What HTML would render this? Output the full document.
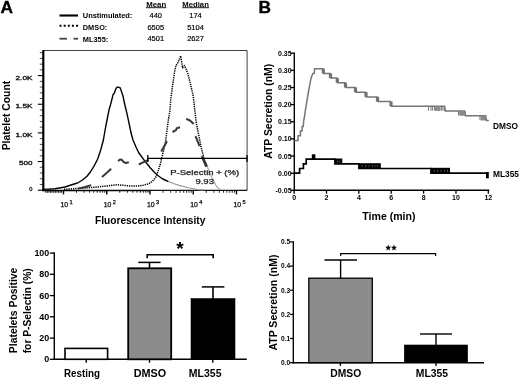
<!DOCTYPE html>
<html><head><meta charset="utf-8"><title>Figure</title>
<style>
html,body{margin:0;padding:0;background:#fff;}
body{width:520px;height:380px;overflow:hidden;font-family:"Liberation Sans",sans-serif;}
svg{display:block;filter:blur(0.35px);}
text{font-family:"Liberation Sans",sans-serif;fill:#000;}
.b{font-weight:bold;}
</style></head><body>
<svg width="520" height="380" viewBox="0 0 520 380">
<rect x="0" y="0" width="520" height="380" fill="#fff"/>

<text x="0.6" y="13.2" font-size="17.3" text-anchor="start" class="b" stroke="#000" stroke-width="0.35">A</text>
<text x="258.6" y="13.2" font-size="17.3" text-anchor="start" class="b" stroke="#000" stroke-width="0.35">B</text>
<line x1="59.5" y1="15.5" x2="78" y2="15.5" stroke="#000" stroke-width="2.1"/>
<line x1="59.5" y1="25.7" x2="78.5" y2="25.7" stroke="#000" stroke-width="1.9" stroke-dasharray="2 2.15"/>
<line x1="59.5" y1="38.7" x2="67" y2="38.7" stroke="#444" stroke-width="1.8"/>
<line x1="73.5" y1="38.7" x2="78" y2="38.7" stroke="#444" stroke-width="1.8"/>
<text x="82.8" y="18.2" font-size="7.6" text-anchor="start" class="b" textLength="49.5" lengthAdjust="spacingAndGlyphs">Unstimulated:</text>
<text x="82.8" y="29.7" font-size="7.6" text-anchor="start" class="b" textLength="24.5" lengthAdjust="spacingAndGlyphs">DMSO:</text>
<text x="82.8" y="41.5" font-size="7.6" text-anchor="start" class="b" textLength="25.5" lengthAdjust="spacingAndGlyphs">ML355:</text>
<text x="156.2" y="6.7" font-size="7.8" text-anchor="middle" class="b" textLength="20" lengthAdjust="spacingAndGlyphs">Mean</text>
<line x1="146" y1="7.7" x2="166.3" y2="7.7" stroke="#000" stroke-width="0.9"/>
<text x="195.6" y="6.7" font-size="7.8" text-anchor="middle" class="b" textLength="26.5" lengthAdjust="spacingAndGlyphs">Median</text>
<line x1="182.3" y1="7.7" x2="209" y2="7.7" stroke="#000" stroke-width="0.9"/>
<text x="155.8" y="18.2" font-size="7.5" text-anchor="middle" stroke="#000" stroke-width="0.18">440</text>
<text x="195.5" y="18.2" font-size="7.5" text-anchor="middle" stroke="#000" stroke-width="0.18">174</text>
<text x="155.8" y="29.9" font-size="7.5" text-anchor="middle" stroke="#000" stroke-width="0.18">6505</text>
<text x="195.5" y="29.9" font-size="7.5" text-anchor="middle" stroke="#000" stroke-width="0.18">5104</text>
<text x="155.8" y="41.1" font-size="7.5" text-anchor="middle" stroke="#000" stroke-width="0.18">4501</text>
<text x="195.5" y="41.1" font-size="7.5" text-anchor="middle" stroke="#000" stroke-width="0.18">2627</text>
<path d="M43.3,50.5 H247.1 V190.4" fill="none" stroke="#111" stroke-width="0.8"/>
<line x1="43.3" y1="50.2" x2="43.3" y2="191.1" stroke="#000" stroke-width="2.2"/>
<line x1="42.3" y1="190.4" x2="150" y2="190.4" stroke="#000" stroke-width="1.5"/>
<line x1="150" y1="190.4" x2="247.1" y2="190.4" stroke="#111" stroke-width="1.2"/>
<line x1="45.8" y1="190.4" x2="45.8" y2="192.8" stroke="#000" stroke-width="0.9"/>
<line x1="47.4" y1="190.4" x2="47.4" y2="192.8" stroke="#000" stroke-width="0.9"/>
<line x1="49.0" y1="190.4" x2="49.0" y2="192.8" stroke="#000" stroke-width="0.9"/>
<line x1="50.6" y1="190.4" x2="50.6" y2="192.8" stroke="#000" stroke-width="0.9"/>
<line x1="52.2" y1="190.4" x2="52.2" y2="192.8" stroke="#000" stroke-width="0.9"/>
<line x1="53.8" y1="190.4" x2="53.8" y2="192.8" stroke="#000" stroke-width="0.9"/>
<line x1="55.4" y1="190.4" x2="55.4" y2="192.8" stroke="#000" stroke-width="0.9"/>
<line x1="57.0" y1="190.4" x2="57.0" y2="192.8" stroke="#000" stroke-width="0.9"/>
<line x1="58.6" y1="190.4" x2="58.6" y2="192.8" stroke="#000" stroke-width="0.9"/>
<line x1="60.2" y1="190.4" x2="60.2" y2="192.8" stroke="#000" stroke-width="0.9"/>
<line x1="37.8" y1="190.20" x2="43.3" y2="190.20" stroke="#000" stroke-width="1.1"/>
<line x1="39.8" y1="184.47" x2="43.3" y2="184.47" stroke="#000" stroke-width="0.7"/>
<line x1="39.8" y1="178.74" x2="43.3" y2="178.74" stroke="#000" stroke-width="0.7"/>
<line x1="39.8" y1="173.01" x2="43.3" y2="173.01" stroke="#000" stroke-width="0.7"/>
<line x1="39.8" y1="167.28" x2="43.3" y2="167.28" stroke="#000" stroke-width="0.7"/>
<line x1="37.8" y1="161.55" x2="43.3" y2="161.55" stroke="#000" stroke-width="1.1"/>
<line x1="39.8" y1="155.82" x2="43.3" y2="155.82" stroke="#000" stroke-width="0.7"/>
<line x1="39.8" y1="150.09" x2="43.3" y2="150.09" stroke="#000" stroke-width="0.7"/>
<line x1="39.8" y1="144.36" x2="43.3" y2="144.36" stroke="#000" stroke-width="0.7"/>
<line x1="39.8" y1="138.63" x2="43.3" y2="138.63" stroke="#000" stroke-width="0.7"/>
<line x1="37.8" y1="132.90" x2="43.3" y2="132.90" stroke="#000" stroke-width="1.1"/>
<line x1="39.8" y1="127.17" x2="43.3" y2="127.17" stroke="#000" stroke-width="0.7"/>
<line x1="39.8" y1="121.44" x2="43.3" y2="121.44" stroke="#000" stroke-width="0.7"/>
<line x1="39.8" y1="115.71" x2="43.3" y2="115.71" stroke="#000" stroke-width="0.7"/>
<line x1="39.8" y1="109.98" x2="43.3" y2="109.98" stroke="#000" stroke-width="0.7"/>
<line x1="37.8" y1="104.25" x2="43.3" y2="104.25" stroke="#000" stroke-width="1.1"/>
<line x1="39.8" y1="98.52" x2="43.3" y2="98.52" stroke="#000" stroke-width="0.7"/>
<line x1="39.8" y1="92.79" x2="43.3" y2="92.79" stroke="#000" stroke-width="0.7"/>
<line x1="39.8" y1="87.06" x2="43.3" y2="87.06" stroke="#000" stroke-width="0.7"/>
<line x1="39.8" y1="81.33" x2="43.3" y2="81.33" stroke="#000" stroke-width="0.7"/>
<line x1="37.8" y1="75.60" x2="43.3" y2="75.60" stroke="#000" stroke-width="1.1"/>
<line x1="39.8" y1="69.87" x2="43.3" y2="69.87" stroke="#000" stroke-width="0.7"/>
<line x1="39.8" y1="64.14" x2="43.3" y2="64.14" stroke="#000" stroke-width="0.7"/>
<line x1="39.8" y1="58.41" x2="43.3" y2="58.41" stroke="#000" stroke-width="0.7"/>
<line x1="39.8" y1="52.68" x2="43.3" y2="52.68" stroke="#000" stroke-width="0.7"/>
<text x="32.5" y="79.69999999999999" font-size="5.7" text-anchor="end" textLength="17" lengthAdjust="spacingAndGlyphs" fill="#111" stroke="#111" stroke-width="0.3">2.0K</text>
<text x="32.5" y="108.0" font-size="5.7" text-anchor="end" textLength="17" lengthAdjust="spacingAndGlyphs" fill="#111" stroke="#111" stroke-width="0.3">1.5K</text>
<text x="32.5" y="136.5" font-size="5.7" text-anchor="end" textLength="17" lengthAdjust="spacingAndGlyphs" fill="#111" stroke="#111" stroke-width="0.3">1.0K</text>
<text x="32.5" y="165.4" font-size="5.7" text-anchor="end" textLength="13.4" lengthAdjust="spacingAndGlyphs" fill="#111" stroke="#111" stroke-width="0.3">500</text>
<text x="32.5" y="191.0" font-size="5.7" text-anchor="end" fill="#111" stroke="#111" stroke-width="0.3">0</text>
<line x1="61.52" y1="190.4" x2="61.52" y2="192.8" stroke="#000" stroke-width="0.8"/>
<line x1="63.50" y1="190.4" x2="63.50" y2="194.4" stroke="#000" stroke-width="1.4"/>
<line x1="76.52" y1="190.4" x2="76.52" y2="192.8" stroke="#000" stroke-width="0.8"/>
<line x1="84.14" y1="190.4" x2="84.14" y2="192.8" stroke="#000" stroke-width="0.8"/>
<line x1="89.54" y1="190.4" x2="89.54" y2="192.8" stroke="#000" stroke-width="0.8"/>
<line x1="93.73" y1="190.4" x2="93.73" y2="192.8" stroke="#000" stroke-width="0.8"/>
<line x1="97.16" y1="190.4" x2="97.16" y2="192.8" stroke="#000" stroke-width="0.8"/>
<line x1="100.05" y1="190.4" x2="100.05" y2="192.8" stroke="#000" stroke-width="0.8"/>
<line x1="102.56" y1="190.4" x2="102.56" y2="192.8" stroke="#000" stroke-width="0.8"/>
<line x1="104.77" y1="190.4" x2="104.77" y2="192.8" stroke="#000" stroke-width="0.8"/>
<line x1="106.75" y1="190.4" x2="106.75" y2="194.4" stroke="#000" stroke-width="1.4"/>
<line x1="119.77" y1="190.4" x2="119.77" y2="192.8" stroke="#000" stroke-width="0.8"/>
<line x1="127.39" y1="190.4" x2="127.39" y2="192.8" stroke="#000" stroke-width="0.8"/>
<line x1="132.79" y1="190.4" x2="132.79" y2="192.8" stroke="#000" stroke-width="0.8"/>
<line x1="136.98" y1="190.4" x2="136.98" y2="192.8" stroke="#000" stroke-width="0.8"/>
<line x1="140.41" y1="190.4" x2="140.41" y2="192.8" stroke="#000" stroke-width="0.8"/>
<line x1="143.30" y1="190.4" x2="143.30" y2="192.8" stroke="#000" stroke-width="0.8"/>
<line x1="145.81" y1="190.4" x2="145.81" y2="192.8" stroke="#000" stroke-width="0.8"/>
<line x1="148.02" y1="190.4" x2="148.02" y2="192.8" stroke="#000" stroke-width="0.8"/>
<line x1="150.00" y1="190.4" x2="150.00" y2="194.4" stroke="#000" stroke-width="1.4"/>
<line x1="163.02" y1="190.4" x2="163.02" y2="192.8" stroke="#000" stroke-width="0.8"/>
<line x1="170.64" y1="190.4" x2="170.64" y2="192.8" stroke="#000" stroke-width="0.8"/>
<line x1="176.04" y1="190.4" x2="176.04" y2="192.8" stroke="#000" stroke-width="0.8"/>
<line x1="180.23" y1="190.4" x2="180.23" y2="192.8" stroke="#000" stroke-width="0.8"/>
<line x1="183.66" y1="190.4" x2="183.66" y2="192.8" stroke="#000" stroke-width="0.8"/>
<line x1="186.55" y1="190.4" x2="186.55" y2="192.8" stroke="#000" stroke-width="0.8"/>
<line x1="189.06" y1="190.4" x2="189.06" y2="192.8" stroke="#000" stroke-width="0.8"/>
<line x1="191.27" y1="190.4" x2="191.27" y2="192.8" stroke="#000" stroke-width="0.8"/>
<line x1="193.25" y1="190.4" x2="193.25" y2="194.4" stroke="#000" stroke-width="1.4"/>
<line x1="206.27" y1="190.4" x2="206.27" y2="192.8" stroke="#000" stroke-width="0.8"/>
<line x1="213.89" y1="190.4" x2="213.89" y2="192.8" stroke="#000" stroke-width="0.8"/>
<line x1="219.29" y1="190.4" x2="219.29" y2="192.8" stroke="#000" stroke-width="0.8"/>
<line x1="223.48" y1="190.4" x2="223.48" y2="192.8" stroke="#000" stroke-width="0.8"/>
<line x1="226.91" y1="190.4" x2="226.91" y2="192.8" stroke="#000" stroke-width="0.8"/>
<line x1="229.80" y1="190.4" x2="229.80" y2="192.8" stroke="#000" stroke-width="0.8"/>
<line x1="232.31" y1="190.4" x2="232.31" y2="192.8" stroke="#000" stroke-width="0.8"/>
<line x1="234.52" y1="190.4" x2="234.52" y2="192.8" stroke="#000" stroke-width="0.8"/>
<line x1="236.50" y1="190.4" x2="236.50" y2="194.4" stroke="#000" stroke-width="1.4"/>
<text x="64.3" y="206.6" font-size="6.8" text-anchor="middle" textLength="7.6" lengthAdjust="spacingAndGlyphs" fill="#111" stroke="#111" stroke-width="0.25">10</text>
<text x="71.0" y="203.5" font-size="5.6" text-anchor="middle" fill="#111" stroke="#111" stroke-width="0.25">1</text>
<text x="107.55" y="206.6" font-size="6.8" text-anchor="middle" textLength="7.6" lengthAdjust="spacingAndGlyphs" fill="#111" stroke="#111" stroke-width="0.25">10</text>
<text x="114.25" y="203.5" font-size="5.6" text-anchor="middle" fill="#111" stroke="#111" stroke-width="0.25">2</text>
<text x="150.8" y="206.6" font-size="6.8" text-anchor="middle" textLength="7.6" lengthAdjust="spacingAndGlyphs" fill="#111" stroke="#111" stroke-width="0.25">10</text>
<text x="157.5" y="203.5" font-size="5.6" text-anchor="middle" fill="#111" stroke="#111" stroke-width="0.25">3</text>
<text x="194.05" y="206.6" font-size="6.8" text-anchor="middle" textLength="7.6" lengthAdjust="spacingAndGlyphs" fill="#111" stroke="#111" stroke-width="0.25">10</text>
<text x="200.75" y="203.5" font-size="5.6" text-anchor="middle" fill="#111" stroke="#111" stroke-width="0.25">4</text>
<text x="237.3" y="206.6" font-size="6.8" text-anchor="middle" textLength="7.6" lengthAdjust="spacingAndGlyphs" fill="#111" stroke="#111" stroke-width="0.25">10</text>
<text x="244.0" y="203.5" font-size="5.6" text-anchor="middle" fill="#111" stroke="#111" stroke-width="0.25">5</text>
<path d="M44.0,189.4 L55.0,188.7 L65.0,187.0 L72.5,184.5 L77.5,183.0 L82.5,180.0 L87.0,176.2 L90.4,172.0 L94.0,166.2 L97.8,158.7 L100.7,150.0 L103.4,140.0 L105.1,130.0 L107.1,119.5 L109.1,109.6 L111.0,103.0 L113.0,94.8 L114.3,93.2 L115.7,89.2 L117.0,87.2 L118.7,87.3 L120.3,87.9 L120.9,89.9 L122.9,95.8 L124.9,105.0 L126.8,112.9 L128.8,122.1 L130.3,129.5 L131.6,135.0 L133.0,140.0 L136.2,147.5 L138.7,152.8 L140.0,154.5 L145.1,161.4 L150.2,167.7 L153.7,171.5 L157.1,175.0 L162.8,179.0 L168.5,181.6" fill="none" stroke="#000" stroke-width="1.4" stroke-linejoin="round"/>
<path d="M168.5,181.6 L173.5,183.5 L179.2,185.4 L189.3,188.0 L198.0,189.6 L204.0,190.0" fill="none" stroke="#999" stroke-width="1.2" stroke-linejoin="round"/>
<path d="M64.0,189.3 L80.0,188.3 L95.0,187.2 L105.0,186.2 L112.0,185.3 L117.0,184.8 L123.0,185.3 L130.0,186.0 L138.0,186.0 L142.6,185.4 L147.0,184.3 L150.2,182.9 L154.0,179.7 L156.5,176.0 L158.4,170.2 L160.3,164.0 L161.8,157.6 L163.4,151.3 L165.3,143.0 L166.4,135.0 L168.0,122.5 L170.0,110.0 L170.8,98.7 L172.8,84.2 L174.7,71.0 L176.0,65.1 L177.3,64.2 L179.0,60.0 L180.7,55.9 L181.6,62.0 L182.6,67.8 L183.6,66.0 L184.6,65.5 L186.0,69.0 L187.9,73.7 L190.5,84.2 L193.2,96.0 L194.5,108.0 L196.2,122.5 L198.7,135.0 L201.2,147.5 L203.7,157.5" fill="none" stroke="#000" stroke-width="1.5" stroke-dasharray="1.3 0.95" stroke-linejoin="round"/>
<path d="M203.7,157.5 L207.6,167.3 L212.0,177.7 L217.0,187.2 L220.5,189.7" fill="none" stroke="#aaa" stroke-width="1.2" stroke-linejoin="round"/>
<path d="M78.0,188.6 L85.0,187.0 L91.2,185.1" fill="none" stroke="#383838" stroke-width="2.0" stroke-linejoin="round"/>
<path d="M102.0,177.0 L106.0,173.5 L111.2,168.8" fill="none" stroke="#383838" stroke-width="2.0" stroke-linejoin="round"/>
<path d="M118.0,161.0 L120.0,159.6 L121.8,159.8 L124.0,162.3 L126.0,163.0 L128.8,162.3" fill="none" stroke="#383838" stroke-width="2.0" stroke-linejoin="round"/>
<path d="M138.8,164.5 L143.0,162.3 L148.5,160.0" fill="none" stroke="#383838" stroke-width="2.0" stroke-linejoin="round"/>
<path d="M161.2,151.5 L164.0,146.5 L167.0,141.2" fill="none" stroke="#383838" stroke-width="2.0" stroke-linejoin="round"/>
<path d="M172.5,132.0 L176.0,130.2 L176.8,128.2 L180.0,127.3" fill="none" stroke="#383838" stroke-width="2.0" stroke-linejoin="round"/>
<path d="M186.2,118.8 L190.0,120.5 L193.7,124.0" fill="none" stroke="#383838" stroke-width="2.0" stroke-linejoin="round"/>
<path d="M195.5,136.2 L197.5,141.0 L199.5,146.2" fill="none" stroke="#383838" stroke-width="2.0" stroke-linejoin="round"/>
<path d="M202.0,156.3 L204.3,161.5 L206.6,166.6" fill="none" stroke="#333" stroke-width="2.7"/>
<line x1="147.5" y1="158.4" x2="247.5" y2="158.4" stroke="#000" stroke-width="1.3"/>
<line x1="147.8" y1="155" x2="147.8" y2="162" stroke="#000" stroke-width="1.3"/>
<line x1="247" y1="155" x2="247" y2="162" stroke="#000" stroke-width="1.3"/>
<text x="204.7" y="174.6" font-size="7.2" text-anchor="middle" textLength="69" lengthAdjust="spacingAndGlyphs" fill="#333" stroke="#333" stroke-width="0.25">P-Selectin + (%)</text>
<text x="204.7" y="184.2" font-size="7.2" text-anchor="middle" textLength="18.5" lengthAdjust="spacingAndGlyphs" fill="#333" stroke="#333" stroke-width="0.25">9.93</text>
<text x="10.4" y="115.6" font-size="11.4" text-anchor="middle" class="b" textLength="69.5" lengthAdjust="spacingAndGlyphs" transform="rotate(-90 10.4 115.6)">Platelet Count</text>
<text x="150.2" y="224.3" font-size="10.9" text-anchor="middle" class="b" textLength="110.5" lengthAdjust="spacingAndGlyphs">Fluorescence Intensity</text>
<line x1="54.3" y1="252.3" x2="54.3" y2="360.0" stroke="#000" stroke-width="1.4"/>
<line x1="53.599999999999994" y1="359.3" x2="246.8" y2="359.3" stroke="#000" stroke-width="1.4"/>
<line x1="49.8" y1="359.3" x2="54.3" y2="359.3" stroke="#000" stroke-width="1.3"/>
<text x="49.2" y="362.3" font-size="8.3" text-anchor="end" class="b" textLength="5" lengthAdjust="spacingAndGlyphs">0</text>
<line x1="49.8" y1="338.1" x2="54.3" y2="338.1" stroke="#000" stroke-width="1.3"/>
<text x="49.2" y="341.05" font-size="8.3" text-anchor="end" class="b" textLength="10" lengthAdjust="spacingAndGlyphs">20</text>
<line x1="49.8" y1="316.8" x2="54.3" y2="316.8" stroke="#000" stroke-width="1.3"/>
<text x="49.2" y="319.8" font-size="8.3" text-anchor="end" class="b" textLength="10" lengthAdjust="spacingAndGlyphs">40</text>
<line x1="49.8" y1="295.6" x2="54.3" y2="295.6" stroke="#000" stroke-width="1.3"/>
<text x="49.2" y="298.55" font-size="8.3" text-anchor="end" class="b" textLength="10" lengthAdjust="spacingAndGlyphs">60</text>
<line x1="49.8" y1="274.3" x2="54.3" y2="274.3" stroke="#000" stroke-width="1.3"/>
<text x="49.2" y="277.3" font-size="8.3" text-anchor="end" class="b" textLength="10" lengthAdjust="spacingAndGlyphs">80</text>
<line x1="49.8" y1="253.1" x2="54.3" y2="253.1" stroke="#000" stroke-width="1.3"/>
<text x="49.2" y="256.05" font-size="8.3" text-anchor="end" class="b" textLength="14.8" lengthAdjust="spacingAndGlyphs">100</text>
<line x1="86.2" y1="359.3" x2="86.2" y2="362.7" stroke="#000" stroke-width="1.4"/>
<line x1="149.5" y1="359.3" x2="149.5" y2="362.7" stroke="#000" stroke-width="1.4"/>
<line x1="212.8" y1="359.3" x2="212.8" y2="362.7" stroke="#000" stroke-width="1.4"/>
<rect x="65" y="348.4" width="42.6" height="10.900000000000034" fill="#fff" stroke="#000" stroke-width="1.6"/>
<line x1="149.5" y1="262.4" x2="149.5" y2="269" stroke="#000" stroke-width="1.6"/>
<line x1="138.3" y1="262.4" x2="160.6" y2="262.4" stroke="#000" stroke-width="1.5"/>
<line x1="213" y1="286.9" x2="213" y2="299" stroke="#000" stroke-width="1.6"/>
<line x1="201.8" y1="286.9" x2="224.4" y2="286.9" stroke="#000" stroke-width="1.5"/>
<rect x="128.2" y="268.3" width="43" height="91.0" fill="#8c8c8c" stroke="#000" stroke-width="1.8"/>
<rect x="191" y="298.6" width="44" height="60.69999999999999" fill="#000" stroke="#000" stroke-width="0.6"/>
<path d="M147.2,258.2 V254.7 H213.2 V258.2" fill="none" stroke="#000" stroke-width="1.6"/>
<text x="180" y="254.5" font-size="19" text-anchor="middle" class="b">*</text>
<text x="82" y="376.6" font-size="10.3" text-anchor="middle" class="b" textLength="36" lengthAdjust="spacingAndGlyphs">Resting</text>
<text x="150" y="376.6" font-size="10.3" text-anchor="middle" class="b" textLength="32.5" lengthAdjust="spacingAndGlyphs">DMSO</text>
<text x="205.2" y="376.6" font-size="10.3" text-anchor="middle" class="b" textLength="32.7" lengthAdjust="spacingAndGlyphs">ML355</text>
<text x="17.3" y="310.4" font-size="11.6" text-anchor="middle" class="b" textLength="85.5" lengthAdjust="spacingAndGlyphs" transform="rotate(-90 17.3 310.4)">Platelets Positive</text>
<text x="30.9" y="310.8" font-size="11.4" text-anchor="middle" class="b" textLength="85" lengthAdjust="spacingAndGlyphs" transform="rotate(-90 30.9 310.8)">for P-Selectin (%)</text>
<line x1="294.3" y1="52.5" x2="294.3" y2="191.0" stroke="#000" stroke-width="1.4"/>
<line x1="293.6" y1="190.3" x2="489.3" y2="190.3" stroke="#000" stroke-width="1.4"/>
<line x1="290.3" y1="190.3" x2="294.3" y2="190.3" stroke="#000" stroke-width="1.3"/>
<text x="291.6" y="192.8" font-size="7.0" text-anchor="end" class="b" textLength="16.2" lengthAdjust="spacingAndGlyphs">-0.05</text>
<line x1="290.3" y1="173.2" x2="294.3" y2="173.2" stroke="#000" stroke-width="1.3"/>
<text x="291.6" y="175.66000000000003" font-size="7.0" text-anchor="end" class="b" textLength="13.6" lengthAdjust="spacingAndGlyphs">0.00</text>
<line x1="290.3" y1="156.0" x2="294.3" y2="156.0" stroke="#000" stroke-width="1.3"/>
<text x="291.6" y="158.52" font-size="7.0" text-anchor="end" class="b" textLength="13.6" lengthAdjust="spacingAndGlyphs">0.05</text>
<line x1="290.3" y1="138.9" x2="294.3" y2="138.9" stroke="#000" stroke-width="1.3"/>
<text x="291.6" y="141.38" font-size="7.0" text-anchor="end" class="b" textLength="13.6" lengthAdjust="spacingAndGlyphs">0.10</text>
<line x1="290.3" y1="121.7" x2="294.3" y2="121.7" stroke="#000" stroke-width="1.3"/>
<text x="291.6" y="124.24000000000001" font-size="7.0" text-anchor="end" class="b" textLength="13.6" lengthAdjust="spacingAndGlyphs">0.15</text>
<line x1="290.3" y1="104.6" x2="294.3" y2="104.6" stroke="#000" stroke-width="1.3"/>
<text x="291.6" y="107.10000000000001" font-size="7.0" text-anchor="end" class="b" textLength="13.6" lengthAdjust="spacingAndGlyphs">0.20</text>
<line x1="290.3" y1="87.5" x2="294.3" y2="87.5" stroke="#000" stroke-width="1.3"/>
<text x="291.6" y="89.96000000000001" font-size="7.0" text-anchor="end" class="b" textLength="13.6" lengthAdjust="spacingAndGlyphs">0.25</text>
<line x1="290.3" y1="70.3" x2="294.3" y2="70.3" stroke="#000" stroke-width="1.3"/>
<text x="291.6" y="72.82000000000001" font-size="7.0" text-anchor="end" class="b" textLength="13.6" lengthAdjust="spacingAndGlyphs">0.30</text>
<line x1="290.3" y1="53.2" x2="294.3" y2="53.2" stroke="#000" stroke-width="1.3"/>
<text x="291.6" y="55.68000000000001" font-size="7.0" text-anchor="end" class="b" textLength="13.6" lengthAdjust="spacingAndGlyphs">0.35</text>
<line x1="294.1" y1="190.3" x2="294.1" y2="193.70000000000002" stroke="#000" stroke-width="1.3"/>
<text x="294.1" y="199.8" font-size="7.0" text-anchor="middle" class="b">0</text>
<line x1="326.5" y1="190.3" x2="326.5" y2="193.70000000000002" stroke="#000" stroke-width="1.3"/>
<text x="326.47" y="199.8" font-size="7.0" text-anchor="middle" class="b">2</text>
<line x1="358.8" y1="190.3" x2="358.8" y2="193.70000000000002" stroke="#000" stroke-width="1.3"/>
<text x="358.84000000000003" y="199.8" font-size="7.0" text-anchor="middle" class="b">4</text>
<line x1="391.2" y1="190.3" x2="391.2" y2="193.70000000000002" stroke="#000" stroke-width="1.3"/>
<text x="391.21000000000004" y="199.8" font-size="7.0" text-anchor="middle" class="b">6</text>
<line x1="423.6" y1="190.3" x2="423.6" y2="193.70000000000002" stroke="#000" stroke-width="1.3"/>
<text x="423.58000000000004" y="199.8" font-size="7.0" text-anchor="middle" class="b">8</text>
<line x1="456.0" y1="190.3" x2="456.0" y2="193.70000000000002" stroke="#000" stroke-width="1.3"/>
<text x="455.95000000000005" y="199.8" font-size="7.0" text-anchor="middle" class="b">10</text>
<line x1="488.3" y1="190.3" x2="488.3" y2="193.70000000000002" stroke="#000" stroke-width="1.3"/>
<text x="488.32" y="199.8" font-size="7.0" text-anchor="middle" class="b">12</text>
<text x="388.9" y="220.3" font-size="10.4" text-anchor="middle" class="b" textLength="53.2" lengthAdjust="spacingAndGlyphs">Time (min)</text>
<text x="272.2" y="111.3" font-size="11" text-anchor="middle" class="b" textLength="95" lengthAdjust="spacingAndGlyphs" transform="rotate(-90 272.2 111.3)">ATP Secretion (nM)</text>
<text x="493" y="129.2" font-size="8.7" text-anchor="start" class="b" textLength="25" lengthAdjust="spacingAndGlyphs">DMSO</text>
<text x="493" y="177.2" font-size="8.7" text-anchor="start" class="b" textLength="26" lengthAdjust="spacingAndGlyphs">ML355</text>
<path d="M294.5,140.5 L298.0,140.5 L298.0,135.8 L300.4,135.8 L300.4,131.1 L302.1,131.1 L302.1,126.4 L303.3,126.4 L303.6,121.7 L304.4,117.0 L305.1,112.3 L305.8,107.6 L306.6,102.9 L307.4,98.2 L308.2,93.5 L309.0,88.8 L309.9,84.1 L310.8,79.4 L311.8,76.0 L313.0,73.5 L314.3,73.4 L314.6,68.7 L322.9,68.7 L323.7,73.4 L330.1,73.4 L330.9,78.1 L336.9,78.1 L337.7,82.8 L345.1,82.8 L345.9,87.5 L355.1,87.5 L355.9,92.2 L365.6,92.2 L366.4,96.9 L377.1,96.9 L377.9,101.6 L390.6,101.6 L391.4,106.3 L444.6,106.3 L445.4,111.0 L464.6,111.0 L465.4,115.7 L485.6,115.7 L486.4,120.4 L488.8,120.4" fill="none" stroke="#757575" stroke-width="1.5" stroke-linejoin="miter"/>
<rect x="321.7" y="68.7" width="3.2" height="4.7" fill="#727272"/>
<rect x="328.9" y="73.4" width="3.2" height="4.7" fill="#727272"/>
<rect x="335.7" y="78.1" width="3.2" height="4.7" fill="#727272"/>
<rect x="343.9" y="82.8" width="3.2" height="4.7" fill="#727272"/>
<rect x="353.9" y="87.5" width="3.2" height="4.7" fill="#727272"/>
<rect x="364.4" y="92.2" width="3.2" height="4.7" fill="#727272"/>
<rect x="375.9" y="96.9" width="3.2" height="4.7" fill="#727272"/>
<rect x="389.4" y="101.6" width="3.2" height="4.7" fill="#727272"/>
<line x1="428.5" y1="106.3" x2="428.5" y2="110.7" stroke="#777" stroke-width="1.0"/>
<line x1="431" y1="106.3" x2="431" y2="110.7" stroke="#777" stroke-width="1.0"/>
<line x1="432.6" y1="106.3" x2="432.6" y2="110.7" stroke="#777" stroke-width="1.0"/>
<line x1="434.6" y1="106.3" x2="434.6" y2="110.7" stroke="#777" stroke-width="1.0"/>
<line x1="436" y1="106.3" x2="436" y2="110.7" stroke="#777" stroke-width="1.0"/>
<line x1="437.2" y1="106.3" x2="437.2" y2="110.7" stroke="#777" stroke-width="1.0"/>
<line x1="438.4" y1="106.3" x2="438.4" y2="110.7" stroke="#777" stroke-width="1.0"/>
<line x1="439.6" y1="106.3" x2="439.6" y2="110.7" stroke="#777" stroke-width="1.0"/>
<line x1="441.6" y1="106.3" x2="441.6" y2="110.7" stroke="#777" stroke-width="1.0"/>
<line x1="443" y1="106.3" x2="443" y2="110.7" stroke="#777" stroke-width="1.0"/>
<line x1="444.4" y1="106.3" x2="444.4" y2="110.7" stroke="#777" stroke-width="1.0"/>
<rect x="435" y="106.3" width="5.5" height="4.4" fill="#8a8a8a"/>
<line x1="458.6" y1="111" x2="458.6" y2="115.5" stroke="#777" stroke-width="1.1"/>
<line x1="460" y1="111" x2="460" y2="115.5" stroke="#777" stroke-width="1.1"/>
<line x1="461.4" y1="111" x2="461.4" y2="115.5" stroke="#777" stroke-width="1.1"/>
<line x1="462.6" y1="111" x2="462.6" y2="115.5" stroke="#777" stroke-width="1.1"/>
<line x1="463.8" y1="111" x2="463.8" y2="115.5" stroke="#777" stroke-width="1.1"/>
<line x1="465" y1="111" x2="465" y2="115.5" stroke="#777" stroke-width="1.1"/>
<rect x="459.5" y="111" width="5" height="4.5" fill="#8a8a8a"/>
<line x1="480" y1="115.7" x2="480" y2="120.3" stroke="#777" stroke-width="1.1"/>
<line x1="481.4" y1="115.7" x2="481.4" y2="120.3" stroke="#777" stroke-width="1.1"/>
<line x1="482.8" y1="115.7" x2="482.8" y2="120.3" stroke="#777" stroke-width="1.1"/>
<line x1="484.2" y1="115.7" x2="484.2" y2="120.3" stroke="#777" stroke-width="1.1"/>
<line x1="485.6" y1="115.7" x2="485.6" y2="120.3" stroke="#777" stroke-width="1.1"/>
<rect x="481" y="115.7" width="4.5" height="4.6" fill="#8a8a8a"/>
<path d="M294.5,173.2 L299.6,173.2 L299.6,168.5 L303.4,168.5 L303.4,163.8 L306.2,163.8 L306.2,159.2 L335.0,159.2 L335.0,163.8 L359.0,163.8 L359.0,168.5 L431.0,168.5 L431.0,173.2 L488.0,173.2" fill="none" stroke="#000" stroke-width="1.7" stroke-linejoin="miter"/>
<rect x="311.8" y="154.3" width="3.6" height="5" fill="#000"/>
<rect x="334.5" y="158.5" width="7.8" height="5.6" fill="#000"/>
<rect x="358.5" y="163.2" width="22.3" height="5.8" fill="#000"/>
<rect x="431" y="167.8" width="19" height="5.9" fill="#000"/>
<rect x="486" y="172" width="2.8" height="6.3" fill="#000"/>
<line x1="337.5" y1="160.6" x2="337.5" y2="162.6" stroke="#777" stroke-width="0.7"/>
<line x1="340" y1="160.6" x2="340" y2="162.6" stroke="#777" stroke-width="0.7"/>
<line x1="362" y1="165" x2="362" y2="167.2" stroke="#666" stroke-width="0.7"/>
<line x1="365.5" y1="165" x2="365.5" y2="167.2" stroke="#666" stroke-width="0.7"/>
<line x1="369" y1="165" x2="369" y2="167.2" stroke="#666" stroke-width="0.7"/>
<line x1="372.5" y1="165" x2="372.5" y2="167.2" stroke="#666" stroke-width="0.7"/>
<line x1="375" y1="165" x2="375" y2="167.2" stroke="#666" stroke-width="0.7"/>
<line x1="377.5" y1="165" x2="377.5" y2="167.2" stroke="#666" stroke-width="0.7"/>
<line x1="434" y1="169.6" x2="434" y2="172" stroke="#666" stroke-width="0.7"/>
<line x1="437.5" y1="169.6" x2="437.5" y2="172" stroke="#666" stroke-width="0.7"/>
<line x1="441" y1="169.6" x2="441" y2="172" stroke="#666" stroke-width="0.7"/>
<line x1="444.5" y1="169.6" x2="444.5" y2="172" stroke="#666" stroke-width="0.7"/>
<line x1="447.5" y1="169.6" x2="447.5" y2="172" stroke="#666" stroke-width="0.7"/>
<line x1="293.3" y1="241.2" x2="293.3" y2="363.4" stroke="#000" stroke-width="1.35"/>
<line x1="292.6" y1="362.7" x2="484" y2="362.7" stroke="#000" stroke-width="1.35"/>
<line x1="290.0" y1="362.7" x2="293.3" y2="362.7" stroke="#000" stroke-width="1.2"/>
<text x="290.2" y="365.09999999999997" font-size="6.8" text-anchor="end" class="b" textLength="9.2" lengthAdjust="spacingAndGlyphs">0.0</text>
<line x1="290.0" y1="338.5" x2="293.3" y2="338.5" stroke="#000" stroke-width="1.2"/>
<text x="290.2" y="340.93999999999994" font-size="6.8" text-anchor="end" class="b" textLength="9.2" lengthAdjust="spacingAndGlyphs">0.1</text>
<line x1="290.0" y1="314.4" x2="293.3" y2="314.4" stroke="#000" stroke-width="1.2"/>
<text x="290.2" y="316.78" font-size="6.8" text-anchor="end" class="b" textLength="9.2" lengthAdjust="spacingAndGlyphs">0.2</text>
<line x1="290.0" y1="290.2" x2="293.3" y2="290.2" stroke="#000" stroke-width="1.2"/>
<text x="290.2" y="292.61999999999995" font-size="6.8" text-anchor="end" class="b" textLength="9.2" lengthAdjust="spacingAndGlyphs">0.3</text>
<line x1="290.0" y1="266.1" x2="293.3" y2="266.1" stroke="#000" stroke-width="1.2"/>
<text x="290.2" y="268.46" font-size="6.8" text-anchor="end" class="b" textLength="9.2" lengthAdjust="spacingAndGlyphs">0.4</text>
<line x1="290.0" y1="241.9" x2="293.3" y2="241.9" stroke="#000" stroke-width="1.2"/>
<text x="290.2" y="244.29999999999998" font-size="6.8" text-anchor="end" class="b" textLength="9.2" lengthAdjust="spacingAndGlyphs">0.5</text>
<line x1="340.4" y1="362.7" x2="340.4" y2="365.9" stroke="#000" stroke-width="1.3"/>
<line x1="436" y1="362.7" x2="436" y2="365.9" stroke="#000" stroke-width="1.3"/>
<line x1="340.6" y1="260" x2="340.6" y2="279" stroke="#000" stroke-width="1.4"/>
<line x1="324.5" y1="260" x2="357" y2="260" stroke="#000" stroke-width="1.4"/>
<line x1="436" y1="334" x2="436" y2="346" stroke="#000" stroke-width="1.4"/>
<line x1="420" y1="334" x2="452" y2="334" stroke="#000" stroke-width="1.4"/>
<rect x="308.8" y="278.2" width="63.5" height="84.5" fill="#8c8c8c" stroke="#000" stroke-width="1.3"/>
<rect x="404.3" y="345" width="63.3" height="17.69999999999999" fill="#000" stroke="#000" stroke-width="0.6"/>
<path d="M340.7,256 V253.6 H435.6 V256" fill="none" stroke="#000" stroke-width="1.2"/>
<polygon points="388.20,244.60 388.99,246.71 391.24,246.81 389.48,248.22 390.08,250.39 388.20,249.15 386.32,250.39 386.92,248.22 385.16,246.81 387.41,246.71" fill="#000"/>
<polygon points="394.00,244.60 394.79,246.71 397.04,246.81 395.28,248.22 395.88,250.39 394.00,249.15 392.12,250.39 392.72,248.22 390.96,246.81 393.21,246.71" fill="#000"/>
<text x="345.7" y="377" font-size="10.3" text-anchor="middle" class="b" textLength="31" lengthAdjust="spacingAndGlyphs">DMSO</text>
<text x="432" y="377" font-size="10.3" text-anchor="middle" class="b" textLength="32.3" lengthAdjust="spacingAndGlyphs">ML355</text>
<text x="276.6" y="302.6" font-size="11" text-anchor="middle" class="b" textLength="96" lengthAdjust="spacingAndGlyphs" transform="rotate(-90 276.6 302.6)">ATP Secretion (nM)</text>
</svg></body></html>
